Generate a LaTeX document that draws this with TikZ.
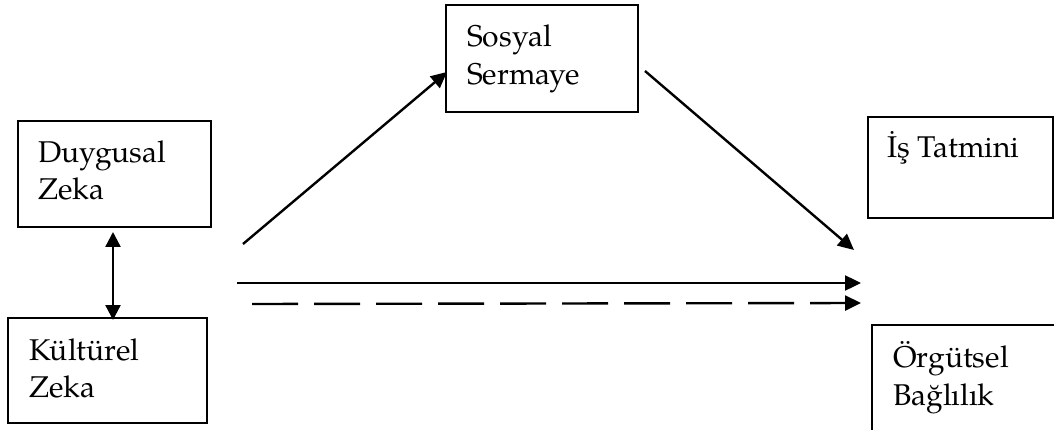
\documentclass[tikz,border=0pt]{standalone}
\usepackage{fontspec}
\setmainfont{TeX Gyre Pagella}
\usetikzlibrary{arrows.meta}
\begin{document}
\begin{tikzpicture}[x=1pt,y=-1pt,
  box/.style={draw,line width=1.8pt,inner sep=0pt},
  lbl/.style={anchor=base west,inner sep=0pt,font=\fontsize{30}{38}\selectfont},
  arr/.style={line width=2.4pt,-{Triangle[length=16pt,width=15pt]}},
  darr/.style={line width=2.4pt,{Triangle[length=15pt,width=15pt]}-{Triangle[length=15pt,width=15pt]}}]
\useasboundingbox (0,0) rectangle (1054,430);
\clip (0,0) rectangle (1054,430);
% boxes
\node[box,minimum width=193pt,minimum height=106pt] (dz) at (114.5,174) {};
\node[box,minimum width=199pt,minimum height=105pt] (kz) at (107.5,370.5) {};
\node[box,minimum width=192pt,minimum height=107pt] (ss) at (542,58.5) {};
\node[box,minimum width=185pt,minimum height=101pt] (it) at (960.5,167.5) {};
\node[box,minimum width=192pt,minimum height=120pt] (ob) at (968,385) {};
% labels
\node[lbl] (dz1) at (38,163) {Duygusal};
\node[lbl] (dz2) at (38,200) {Zeka};
\node[lbl] (kz1) at (29,360) {Kültürel};
\node[lbl] (kz2) at (29,397) {Zeka};
\node[lbl] (ss1) at (467,47) {Sosyal};
\node[lbl] (ss2) at (467,85) {Sermaye};
\node[lbl] (it1) at (887,158) {İş Tatmini};
\node[lbl] (ob1) at (893,367) {Örgütsel};
\node[lbl] (ob2) at (893,405) {Bağlılık};
% connector end points
\coordinate (dA) at (113,232);
\coordinate (dB) at (113,320);
\coordinate (uS) at (243,244);
\coordinate (uE) at (447,72);
\coordinate (sS) at (645,71);
\coordinate (sE) at (854,250);
\coordinate (hS) at (237,283);
\coordinate (hE) at (861,283);
\coordinate (qS) at (252,304);
\coordinate (qE) at (861,303);
% connectors
\draw[darr] (dA) -- (dB);
\draw[arr] (uS) -- (uE);
\draw[arr] (sS) -- (sE);
\draw[arr] (hS) -- (hE);
\draw[arr,dash pattern=on 46pt off 16pt] (qS) -- (qE);
\end{tikzpicture}
\end{document}
